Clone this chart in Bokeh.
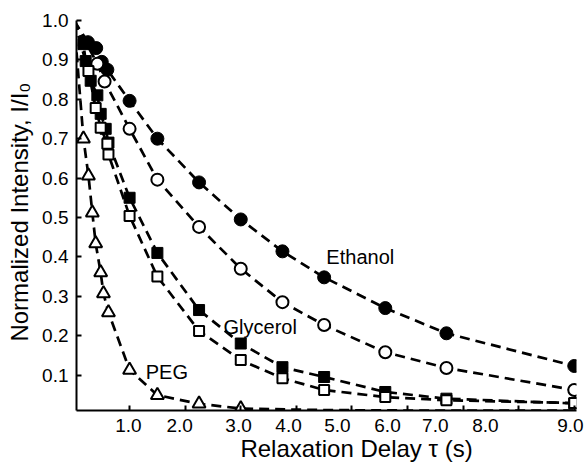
from bokeh.plotting import figure
from bokeh.models import FixedTicker, PrintfTickFormatter, Range1d, ColumnDataSource
from bokeh.embed import file_html
from bokeh.resources import INLINE
from bokeh.core.properties import value

# ---------------- data ----------------
# Ethanol, filled circles
tau_eth_a = [0.25, 0.4, 0.5, 0.6, 1.0, 1.5, 2.25, 3.0, 3.75, 4.5, 5.6, 6.7, 9.0]
int_eth_a = [0.945, 0.93, 0.895, 0.875, 0.796, 0.700, 0.589, 0.495, 0.414, 0.348, 0.270, 0.206, 0.123]
# Ethanol, open circles
tau_eth_b = [0.42, 0.55, 1.0, 1.5, 2.25, 3.0, 3.75, 4.5, 5.6, 6.7, 9.0]
int_eth_b = [0.89, 0.845, 0.725, 0.596, 0.476, 0.370, 0.285, 0.227, 0.158, 0.118, 0.062]
# Glycerol, filled squares
tau_gly_a = [0.17, 0.21, 0.3, 0.42, 0.48, 0.57, 0.62, 1.0, 1.5, 2.25, 3.0, 3.75, 4.5, 5.6, 6.7, 9.0]
int_gly_a = [0.94, 0.897, 0.847, 0.81, 0.763, 0.725, 0.69, 0.55, 0.41, 0.265, 0.18, 0.12, 0.095, 0.057, 0.040, 0.028]
# Glycerol, open squares
tau_gly_b = [0.26, 0.39, 0.48, 0.6, 0.62, 1.0, 1.5, 2.25, 3.0, 3.75, 4.5, 5.6, 6.7, 9.0]
int_gly_b = [0.872, 0.778, 0.728, 0.687, 0.66, 0.504, 0.35, 0.212, 0.138, 0.092, 0.062, 0.044, 0.036, 0.029]
# PEG, open triangles
tau_peg = [0.17, 0.26, 0.33, 0.39, 0.48, 0.53, 0.62, 1.0, 1.5, 2.25, 3.0]
int_peg = [0.70, 0.606, 0.512, 0.434, 0.36, 0.307, 0.259, 0.113, 0.049, 0.027, 0.015]

# fitted (dashed) curves: start at tau=0, I/I0=1 and pass through the points
fit_start_tau = [0.0]
fit_start_int = [1.0]
peg_tail_tau = [4.5, 6.0, 7.5, 9.0]
peg_tail_int = [0.011, 0.010, 0.010, 0.010]

series_labels = ["Ethanol", "Glycerol", "PEG"]
x_tick_labels = ["1.0", "2.0", "3.0", "4.0", "5.0", "6.0", "7.0", "8.0", "9.0"]
x_title = "Relaxation Delay \u03c4 (s)"
y_title = "Normalized Intensity, I/I\u2080"

# ---------------- layout (positions, not data) ----------------
label_tau = [4.54, 2.69, 1.29]
label_int = [0.40, 0.222, 0.108]
x_ticks = [1, 2, 3, 4, 5, 6, 7, 8, 9]
x_label_pos = [0.98, 1.90, 2.96, 3.86, 4.74, 5.64, 6.50, 7.40, 8.93]
y_ticks = [0.1, 0.2, 0.3, 0.4, 0.5, 0.6, 0.7, 0.8, 0.9, 1.0]
NBSP = "\u00a0"
x_title_shift = 9   # the original's x title sits right of centre
y_title_shift = 1

FONT = "Liberation Sans"

p = figure(width=585, height=470, output_backend="svg", toolbar_location=None,
           x_range=Range1d(0.045, 9.04), y_range=Range1d(0.01, 1.0),
           min_border_left=76, min_border_right=9, min_border_top=20, min_border_bottom=60)
p.outline_line_color = None
p.xgrid.visible = False
p.ygrid.visible = False
p.background_fill_color = "white"

# ---- y axis ----
ya = p.yaxis[0]
ya.ticker = FixedTicker(ticks=y_ticks)
ya.formatter = PrintfTickFormatter(format="%.1f")
ya.major_tick_in = 5
ya.major_tick_out = 0
ya.minor_tick_line_color = None
ya.axis_line_width = 2
ya.major_tick_line_width = 2
ya.major_label_text_font = FONT
ya.major_label_text_font_size = "19px"
ya.major_label_text_color = "black"
ya.major_label_standoff = 8
ya.axis_label = NBSP * y_title_shift + y_title
ya.axis_label_text_font = FONT
ya.axis_label_text_font_size = "24px"
ya.axis_label_text_font_style = "normal"
ya.axis_label_text_color = "black"
ya.axis_label_standoff = 6

# ---- x axis: labels where the original puts them, tick marks as minor ticks ----
xa = p.xaxis[0]
xa.ticker = FixedTicker(ticks=x_label_pos, minor_ticks=x_ticks)
xa.major_label_overrides = dict(zip(x_label_pos, x_tick_labels))
xa.major_tick_line_color = None
xa.major_tick_in = 0
xa.major_tick_out = 0
xa.minor_tick_line_color = "black"
xa.minor_tick_line_width = 2
xa.minor_tick_in = 5
xa.minor_tick_out = 0
xa.axis_line_width = 2
xa.major_label_text_font = FONT
xa.major_label_text_font_size = "19px"
xa.major_label_text_color = "black"
xa.major_label_standoff = 8
xa.axis_label = NBSP * x_title_shift + x_title
xa.axis_label_text_font = FONT
xa.axis_label_text_font_size = "24px"
xa.axis_label_text_font_style = "normal"
xa.axis_label_text_color = "black"
xa.axis_label_standoff = 0

# ---- dashed curves ----
dash = "10 6"
for t, v in [(tau_eth_a, int_eth_a), (tau_eth_b, int_eth_b),
             (tau_gly_a, int_gly_a), (tau_gly_b, int_gly_b)]:
    p.line(fit_start_tau + t, fit_start_int + v, line_color="black",
           line_width=2.7, line_dash=dash)
p.line(fit_start_tau + tau_peg + peg_tail_tau, fit_start_int + int_peg + peg_tail_int,
       line_color="black", line_width=2.7, line_dash=dash)

# ---- markers ----
p.scatter(tau_eth_a, int_eth_a, marker="circle", size=13, fill_color="black",
          line_color="black", line_width=1)
p.scatter(tau_eth_b, int_eth_b, marker="circle", size=12, fill_color="white",
          line_color="black", line_width=2)
p.scatter(tau_gly_a, int_gly_a, marker="square", size=11, fill_color="black",
          line_color="black", line_width=1)
p.scatter(tau_gly_b, int_gly_b, marker="square", size=10, fill_color="white",
          line_color="black", line_width=2)
p.scatter(tau_peg, int_peg, marker="triangle", size=13, fill_color="white",
          line_color="black", line_width=2)

# ---- series labels ----
src = ColumnDataSource(dict(x=label_tau, y=label_int, t=series_labels))
p.text(x="x", y="y", text="t", source=src, text_font=value(FONT),
       text_font_size="20px", text_color="black", text_baseline="middle",
       text_align="left")

open("out.html", "w").write(file_html(p, INLINE))
